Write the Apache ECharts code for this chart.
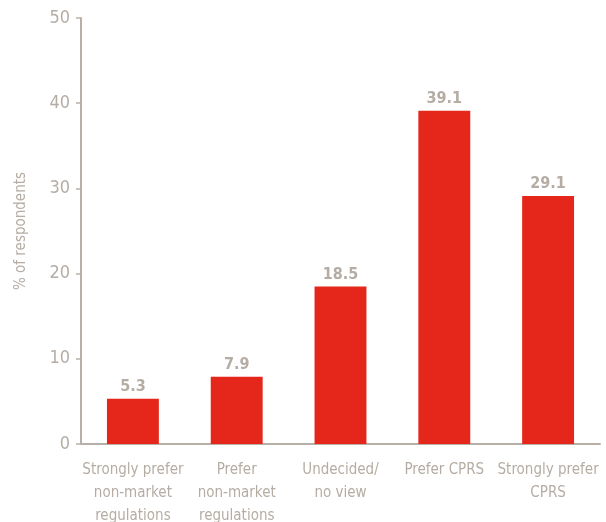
<!DOCTYPE html>
<html>
<head>
<meta charset="utf-8">
<script src="https://cdn.jsdelivr.net/npm/echarts@6/dist/echarts.min.js"></script>
<style>
  html, body { margin: 0; padding: 0; background: #fff; }
  #chart { width: 606px; height: 522px; }
</style>
</head>
<body>
<div id="chart"></div>
<script>
// Survey responses: preference between market and non-market approaches
const categories = [
  'Strongly prefer\nnon-market\nregulations',
  'Prefer\nnon-market\nregulations',
  'Undecided/\nno view',
  'Prefer CPRS',
  'Strongly prefer\nCPRS'
];
const shares = [5.3, 7.9, 18.5, 39.1, 29.1];
const yTicks = { min: 0, max: 50, interval: 10 };

const FONT = '"DejaVu Sans Condensed", "Liberation Sans Narrow", sans-serif';
const GREY = '#b5ada4';
const AXIS = '#b8b0a7';
const RED = '#e5261b';

const chart = echarts.init(document.getElementById('chart'), null, { renderer: 'canvas' });
chart.setOption({
  animation: false,
  grid: {
    left: 81, right: 6, top: 18, bottom: 78,
    containLabel: false, outerBoundsMode: 'none'
  },
  xAxis: {
    type: 'category',
    data: categories,
    axisLine: { lineStyle: { color: AXIS, width: 2 } },
    axisTick: { show: false },
    axisLabel: {
      color: GREY, fontFamily: FONT, fontSize: 15, lineHeight: 23,
      margin: 15, interval: 0
    }
  },
  yAxis: {
    type: 'value',
    min: yTicks.min, max: yTicks.max, interval: yTicks.interval,
    name: '% of respondents',
    nameLocation: 'middle',
    nameGap: 52,
    nameTextStyle: { color: GREY, fontFamily: FONT, fontSize: 15 },
    axisLine: { show: true, lineStyle: { color: AXIS, width: 2 } },
    axisTick: { show: true, length: 5, lineStyle: { color: AXIS, width: 1.5 } },
    axisLabel: { color: GREY, fontFamily: FONT, fontSize: 18, margin: 11 },
    splitLine: { show: false }
  },
  series: [{
    type: 'bar',
    data: shares,
    barWidth: '50%',
    itemStyle: { color: RED },
    label: {
      show: true, position: 'top', distance: 4,
      color: GREY, fontFamily: FONT, fontSize: 16, fontWeight: 'bold',
      formatter: p => p.value.toFixed(1)
    }
  }]
});
</script>
</body>
</html>
